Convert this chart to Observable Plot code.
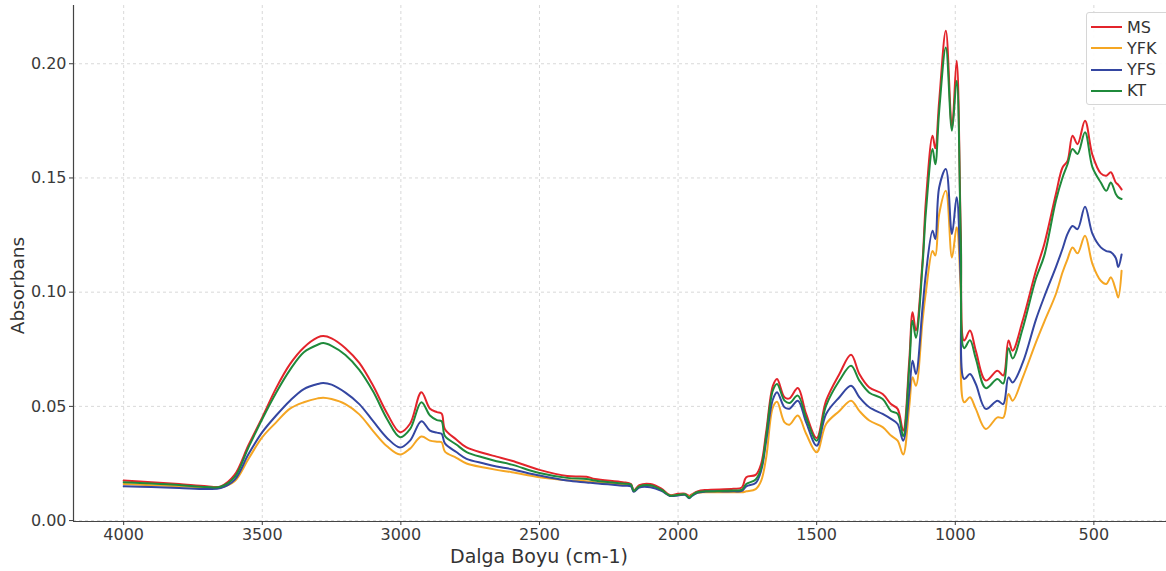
<!DOCTYPE html>
<html><head><meta charset="utf-8">
<script src="https://cdn.jsdelivr.net/npm/d3@7"></script>
<script src="https://cdn.jsdelivr.net/npm/@observablehq/plot@0.6"></script>
<style>
body{margin:0;background:#fff;}
#wrap{position:relative;width:1166px;height:571px;font-family:"DejaVu Sans",sans-serif;overflow:hidden;}
#legend{position:absolute;left:1086px;top:12px;width:90px;height:93px;border:1px solid #d6d6d6;border-radius:3px;background:rgba(255,255,255,0.9);box-sizing:border-box;}
.row{position:absolute;left:4px;height:20px;display:flex;align-items:center;font-size:16px;color:#333;white-space:nowrap;}
.sw{width:31px;height:0;border-top:2px solid;margin-right:5px;}
</style></head><body><div id="wrap"></div>
<script>
// Wavenumbers (cm-1)
const wn = [
  4000,3900,3800,3700,3650,3600,3550,3500,3450,3400,
  3350,3300,3280,3250,3200,3150,3100,3050,3003,2967,
  2926,2895,2870,2853,2841,2800,2763,2700,2655,2600,
  2500,2400,2330,2300,2200,2170,2160,2140,2100,2060,
  2030,2000,1975,1960,1950,1930,1900,1800,1770,1754,
  1720,1700,1682,1658,1643,1616,1598,1568,1538,1500,
  1466,1418,1376,1346,1310,1262,1232,1208,1188,1166,
  1154,1142,1118,1106,1082,1072,1058,1034,1012,995,
  980,968,947,926,890,848,827,808,793,757,
  709,679,637,613,595,577,559,532,505,475,
  455,439,421,412,400];

const MS = [
  .0175,.0168,.0160,.0150,.0150,.0200,.0330,.0452,.0580,.0685,
  .0758,.0802,.0808,.0798,.0755,.0690,.0590,.0470,.0387,.0424,
  .0562,.0490,.0475,.0468,.0400,.0355,.0320,.0295,.0280,.0262,
  .0222,.0195,.0192,.0182,.0168,.0160,.0132,.0155,.0160,.0140,
  .0112,.0117,.0118,.0108,.0115,.0128,.0134,.0139,.0145,.0190,
  .0200,.0250,.0390,.0590,.0620,.0540,.0535,.0580,.0467,.0362,
  .0525,.0642,.0726,.0642,.0583,.0554,.0510,.0489,.0394,.0700,
  .0912,.0832,.1138,.1400,.1685,.1630,.1838,.2144,.1720,.2013,
  .1255,.0788,.0832,.0744,.0613,.0656,.0635,.0788,.0744,.0875,
  .1094,.1210,.1430,.1546,.1575,.1685,.1648,.1750,.1600,.1520,
  .1510,.1525,.1480,.1470,.1450];

const YFK = [
  .0160,.0155,.0150,.0145,.0145,.0172,.0270,.0365,.0430,.0490,
  .0518,.0535,.0538,.0532,.0510,.0465,.0392,.0325,.0289,.0315,
  .0368,.0350,.0345,.0343,.0302,.0275,.0250,.0232,.0222,.0212,
  .0190,.0177,.0172,.0168,.0158,.0155,.0128,.0148,.0150,.0132,
  .0110,.0112,.0114,.0104,.0112,.0122,.0124,.0124,.0124,.0128,
  .0138,.0175,.0277,.0496,.0520,.0430,.0420,.0460,.0380,.0299,
  .0423,.0480,.0525,.0480,.0438,.0409,.0372,.0350,.0289,.0500,
  .0627,.0590,.0875,.1000,.1180,.1160,.1342,.1444,.1152,.1284,
  .0993,.0518,.0540,.0489,.0401,.0452,.0450,.0554,.0525,.0625,
  .0780,.0870,.0992,.1087,.1145,.1196,.1170,.1247,.1123,.1050,
  .1036,.1065,.1010,.0977,.1094];

const YFS = [
  .0150,.0147,.0143,.0138,.0142,.0178,.0290,.0387,.0460,.0525,
  .0576,.0598,.0602,.0595,.0560,.0510,.0435,.0362,.0320,.0350,
  .0435,.0394,.0385,.0380,.0338,.0300,.0270,.0250,.0237,.0225,
  .0197,.0175,.0167,.0163,.0153,.0150,.0126,.0145,.0146,.0130,
  .0108,.0110,.0113,.0098,.0108,.0122,.0127,.0128,.0130,.0150,
  .0165,.0220,.0350,.0530,.0562,.0496,.0490,.0525,.0430,.0328,
  .0467,.0540,.0590,.0540,.0496,.0467,.0445,.0423,.0350,.0560,
  .0700,.0642,.0933,.1080,.1269,.1233,.1459,.1539,.1255,.1415,
  .1036,.0620,.0642,.0598,.0489,.0525,.0510,.0627,.0605,.0690,
  .0880,.0980,.1110,.1190,.1255,.1290,.1276,.1374,.1255,.1196,
  .1180,.1175,.1150,.1110,.1165];

const KT = [
  .0168,.0162,.0156,.0147,.0148,.0190,.0320,.0445,.0560,.0660,
  .0737,.0770,.0777,.0765,.0725,.0660,.0565,.0445,.0365,.0400,
  .0518,.0460,.0440,.0435,.0370,.0333,.0300,.0275,.0260,.0245,
  .0208,.0187,.0182,.0175,.0162,.0158,.0130,.0150,.0155,.0135,
  .0110,.0112,.0115,.0100,.0110,.0125,.0128,.0132,.0135,.0160,
  .0180,.0230,.0370,.0570,.0598,.0525,.0515,.0547,.0450,.0350,
  .0503,.0613,.0678,.0613,.0560,.0532,.0480,.0467,.0370,.0670,
  .0875,.0800,.1120,.1350,.1627,.1560,.1794,.2071,.1707,.1926,
  .1225,.0755,.0790,.0710,.0580,.0620,.0600,.0755,.0710,.0840,
  .1060,.1160,.1400,.1502,.1560,.1627,.1605,.1700,.1546,.1480,
  .1444,.1480,.1430,.1415,.1408];

const seriesNames = ["MS", "YFK", "YFS", "KT"];
const seriesColors = ["#e3242b", "#f5a623", "#3446a1", "#1f8a3b"];
const xTicks = [4000, 3500, 3000, 2500, 2000, 1500, 1000, 500];
const yTicks = [0, 0.05, 0.10, 0.15, 0.20];
const xDomain = [4181, 238];
const yDomain = [-0.0004, 0.2255];

const seriesValues = {MS, YFK, YFS, KT};
const rows = [];
for (const name of seriesNames) {
  seriesValues[name].forEach((v, i) => rows.push({series: name, wn: wn[i], a: v}));
}

const gridStyle = {stroke: "#cfcfcf", strokeOpacity: 1, strokeDasharray: "3,3", strokeWidth: 0.8};

const chart = Plot.plot({
  width: 1166, height: 571,
  marginLeft: 73, marginRight: 0, marginTop: 5, marginBottom: 50,
  style: {fontFamily: "DejaVu Sans, sans-serif", fontSize: "16px", color: "#3a3a3a", background: "#fff"},
  x: {domain: xDomain},
  y: {domain: yDomain},
  color: {domain: seriesNames, range: seriesColors},
  marks: [
    Plot.gridX(xTicks, gridStyle),
    Plot.gridY(yTicks, gridStyle),
    Plot.line(rows, {x: "wn", y: "a", z: "series", stroke: "series", strokeWidth: 2, curve: "catmull-rom"}),
    Plot.ruleX([xDomain[0]], {stroke: "#444", strokeWidth: 1.2}),
    Plot.ruleY([yDomain[0]], {stroke: "#444", strokeWidth: 1.2}),
    Plot.axisX(xTicks, {tickSize: 4, tickPadding: 3, tickFormat: d => String(d), label: null, fontSize: 16}),
    Plot.axisY(yTicks, {tickSize: 4, tickPadding: 3, tickFormat: d => d.toFixed(2), label: null, fontSize: 16}),
    Plot.text(["Dalga Boyu (cm-1)"], {text: d => d, frameAnchor: "bottom", textAnchor: "middle", lineAnchor: "middle", dx: -81, dy: 35, fontSize: 19, fill: "#333"}),
    Plot.text(["Absorbans"], {text: d => d, frameAnchor: "left", textAnchor: "middle", lineAnchor: "middle", rotate: -90, dx: -55, dy: 22, fontSize: 18.5, fill: "#333"})
  ]
});

const wrap = document.getElementById("wrap");
wrap.appendChild(chart);

const legend = document.createElement("div");
legend.id = "legend";
seriesNames.forEach((name, i) => {
  const row = document.createElement("div");
  row.className = "row";
  row.style.top = (4 + i * 21.3) + "px";
  const sw = document.createElement("span");
  sw.className = "sw";
  sw.style.borderTopColor = seriesColors[i];
  const label = document.createElement("span");
  label.textContent = name;
  row.appendChild(sw);
  row.appendChild(label);
  legend.appendChild(row);
});
wrap.appendChild(legend);
</script>
</body></html>
